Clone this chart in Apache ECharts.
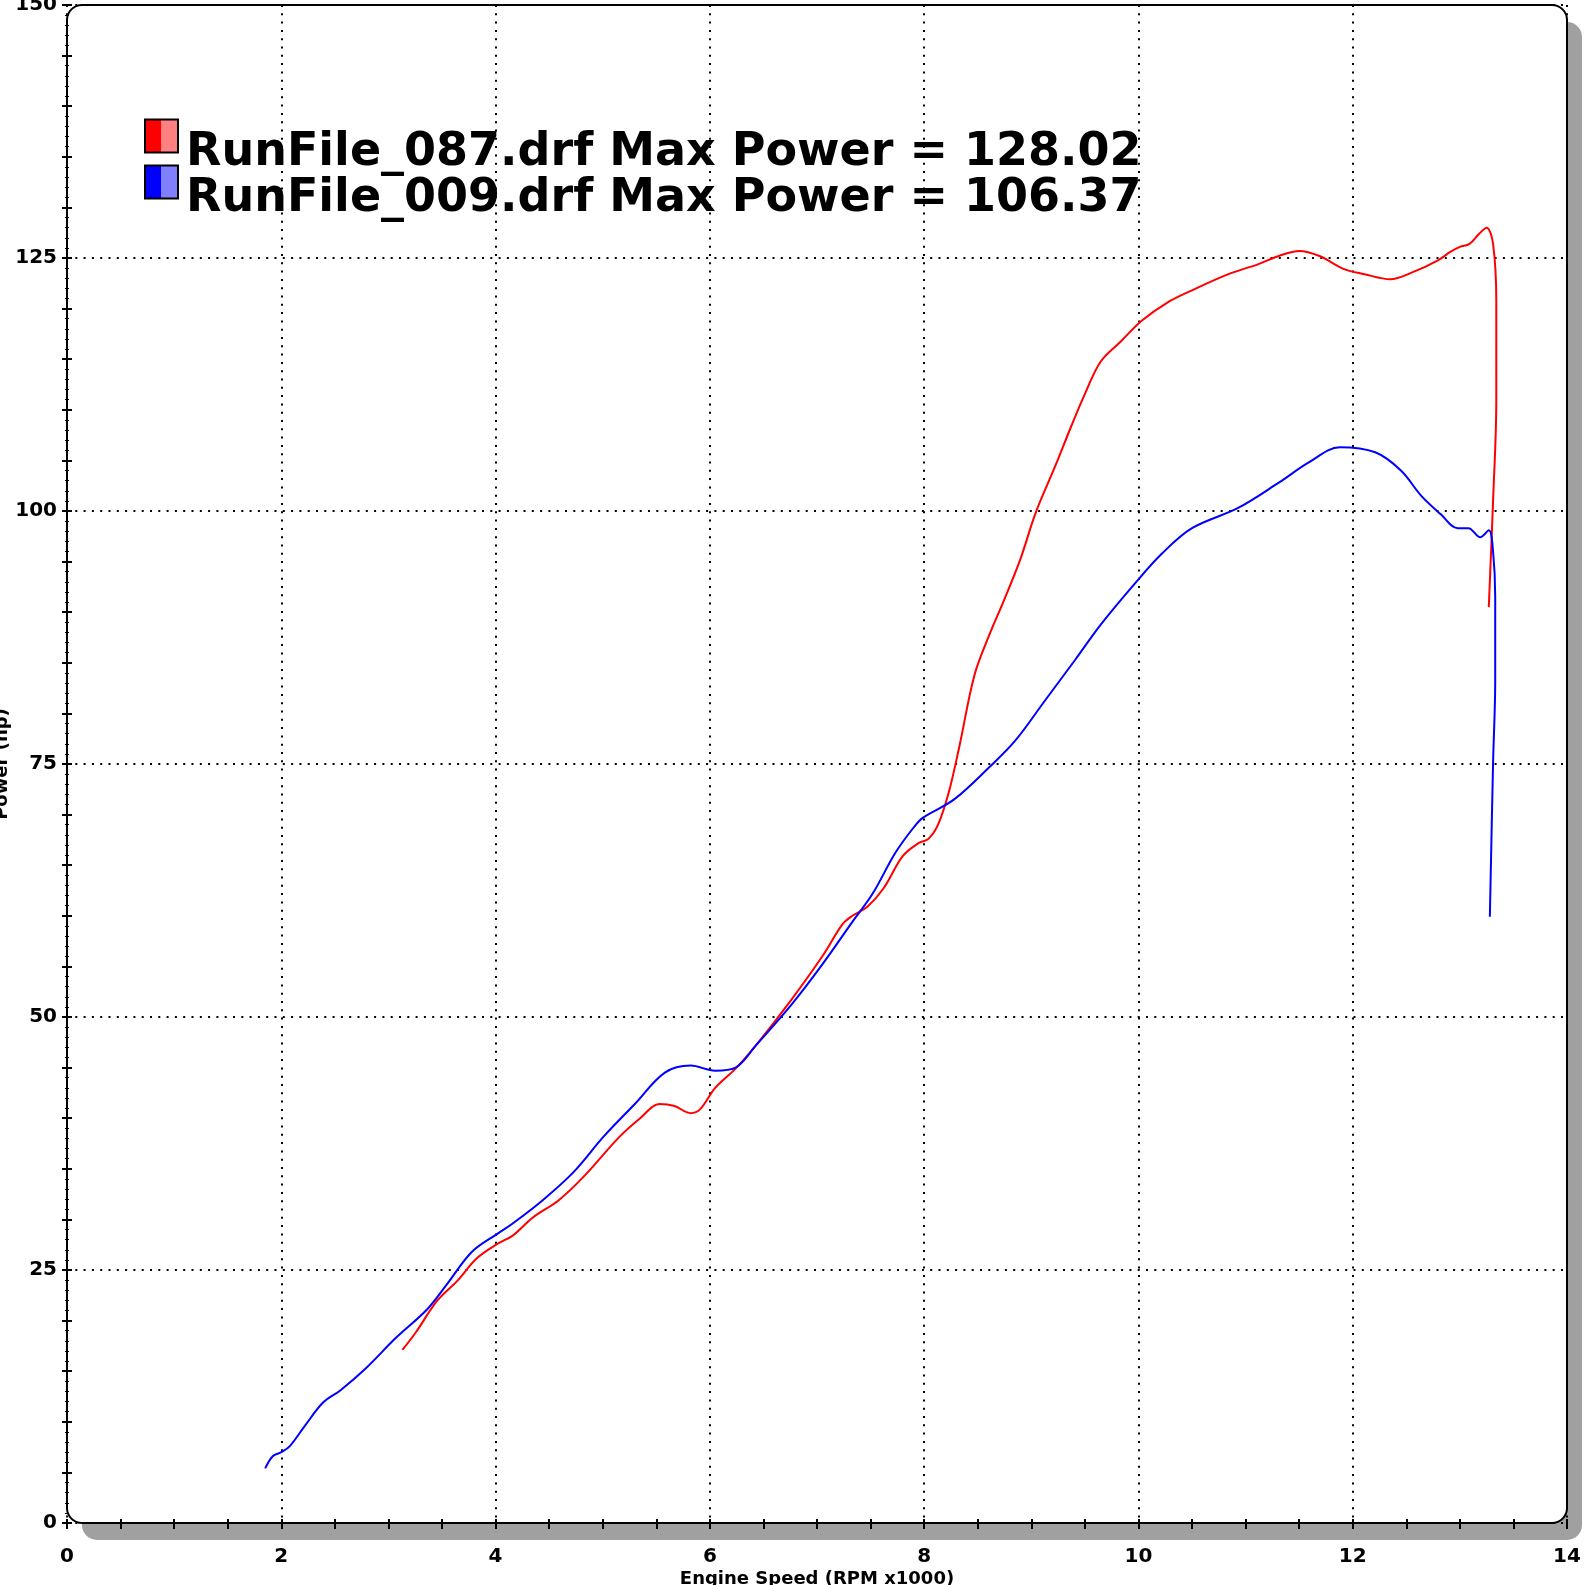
<!DOCTYPE html>
<html>
<head>
<meta charset="utf-8">
<title>Power vs Engine Speed</title>
<script src="https://cdn.jsdelivr.net/npm/echarts@6/dist/echarts.min.js"></script>
<style>
  html, body { margin: 0; padding: 0; background: #fff; }
  #chart { width: 1591px; height: 1585px; }
</style>
</head>
<body>
<div id="chart"></div>
<script>
// run 087 (red)
var rpm087 = [3.13, 3.26, 3.45, 3.64, 3.83, 4.02, 4.16, 4.35, 4.59, 4.82, 5.16, 5.35, 5.53, 5.67, 5.82, 5.91,
  6.05, 6.24, 6.43, 6.76, 7.05, 7.24, 7.33, 7.47, 7.62, 7.80, 7.95, 8.04, 8.13, 8.23, 8.33, 8.47, 8.61, 8.75,
  8.90, 9.04, 9.23, 9.37, 9.51, 9.65, 9.84, 10.03, 10.27, 10.50, 10.84, 11.12, 11.31, 11.50, 11.69, 11.92,
  12.11, 12.35, 12.56, 12.80, 12.91, 13.0, 13.09, 13.18, 13.25, 13.31, 13.34, 13.34, 13.31, 13.27];
var hp087 = [17.1, 18.9, 21.9, 23.9, 26.2, 27.6, 28.4, 30.2, 31.9, 34.2, 38.2, 40.0, 41.4, 41.2, 40.5, 40.9,
  43.0, 44.9, 47.2, 51.7, 56.0, 59.2, 60.0, 60.9, 62.7, 65.9, 67.2, 67.6, 69.0, 72.2, 76.8, 83.8, 87.8, 91.3,
  95.3, 99.8, 104.6, 108.3, 111.8, 114.8, 116.8, 118.8, 120.6, 121.8, 123.4, 124.4, 125.2, 125.7, 125.2, 123.9,
  123.4, 122.9, 123.6, 124.8, 125.6, 126.1, 126.4, 127.4, 128.0, 126.4, 120.8, 110.9, 101.0, 90.5];

// run 009 (blue)
var rpm009 = [1.85, 1.92, 2.0, 2.08, 2.22, 2.39, 2.55, 2.79, 3.07, 3.36, 3.54, 3.78, 4.02, 4.16, 4.44, 4.73,
  5.01, 5.30, 5.58, 5.82, 6.05, 6.24, 6.43, 6.76, 7.05, 7.33, 7.52, 7.73, 7.90, 7.99, 8.28, 8.61, 8.85, 9.13,
  9.41, 9.65, 9.98, 10.22, 10.50, 10.93, 11.31, 11.59, 11.88, 12.21, 12.45, 12.64, 12.82, 12.98, 13.08, 13.19,
  13.27, 13.31, 13.33, 13.33, 13.31, 13.28];
var hp009 = [5.4, 6.6, 7.0, 7.6, 9.6, 11.9, 13.1, 15.3, 18.3, 21.1, 23.5, 26.8, 28.6, 29.6, 31.9, 34.7,
  38.2, 41.4, 44.5, 45.2, 44.7, 45.0, 47.2, 51.2, 55.2, 59.4, 62.2, 66.2, 68.7, 69.7, 71.5, 74.7, 77.3, 81.3,
  85.3, 88.8, 93.0, 95.8, 98.3, 100.3, 102.8, 104.8, 106.3, 105.8, 104.0, 101.5, 99.7, 98.3, 98.3, 97.4,
  98.1, 96.0, 91.5, 83.3, 75.1, 59.9];

var runNames = ['RunFile_087.drf', 'RunFile_009.drf'];
var maxPower = [128.02, 106.37];
var runColors = ['#ff0000', '#0000ff'];
var runLight = ['#ff8080', '#8080ff'];

function pairs(xs, ys) {
  return xs.map(function (x, i) { return [x, ys[i]]; });
}

function splitSwatch(c1, c2) {
  return {
    type: 'linear', x: 0, y: 0, x2: 1, y2: 0,
    colorStops: [
      { offset: 0, color: c1 }, { offset: 0.5, color: c1 },
      { offset: 0.5, color: c2 }, { offset: 1, color: c2 }
    ]
  };
}

var chart = echarts.init(document.getElementById('chart'));

var gl = 67, gt = 5, gw = 1500, gh = 1518;
var font = 'DejaVu Sans';

var option = {
  backgroundColor: '#fff',
  animation: false,
  grid: { left: gl, top: gt, width: gw, height: gh, containLabel: false, outerBoundsMode: 'none' },
  // plot frame, shadow and rounded corners
  graphic: [
    { type: 'rect', z: -20, silent: true,
      shape: { x: gl + 15, y: gt + 17, width: gw, height: gh, r: 15 },
      style: { fill: '#a0a0a0' } },
    { type: 'rect', z: -10, silent: true,
      shape: { x: gl, y: gt, width: gw, height: gh, r: 15 },
      style: { fill: '#fff' } },
    { type: 'rect', z: 100, silent: true,
      shape: { x: gl, y: gt, width: gw, height: gh, r: 15 },
      style: { fill: null, stroke: '#000', lineWidth: 2 } }
  ],
  legend: {
    orient: 'vertical',
    left: 139,
    top: 91,
    itemWidth: 33,
    itemHeight: 33,
    itemGap: -34,
    selectedMode: false,
    textStyle: {
      fontFamily: font, fontWeight: 'bold', fontSize: 46, color: '#000',
      rich: {
        t: { fontFamily: font, fontWeight: 'bold', fontSize: 46, lineHeight: 46, color: '#000', padding: [34, 0, 0, 3] }
      }
    },
    formatter: function (name) {
      var i = runNames.indexOf(name);
      return '{t|' + name + ' Max Power = ' + maxPower[i].toFixed(2) + '}';
    },
    data: runNames.map(function (n, i) {
      return {
        name: n, icon: 'rect',
        itemStyle: { color: splitSwatch(runColors[i], runLight[i]), borderColor: '#000', borderWidth: 2 }
      };
    })
  },
  xAxis: [{
    type: 'value', min: 0, max: 14, interval: 2, offset: -4,
    name: 'Engine Speed (RPM x1000)', nameLocation: 'middle', nameGap: 51, nameMoveOverlap: false,
    nameTextStyle: { fontFamily: font, fontWeight: 'bold', fontSize: 18, color: '#000' },
    axisLine: { show: false },
    axisTick: { show: true, length: 10, lineStyle: { color: '#000', width: 2 } },
    minorTick: { show: true, splitNumber: 4, length: 10, lineStyle: { color: '#000', width: 2 } },
    axisLabel: { margin: 28, fontFamily: font, fontWeight: 'bold', fontSize: 20, color: '#000' },
    splitLine: { show: true, lineStyle: { color: '#000', width: 2, type: [2, 6.3] } }
  }],
  yAxis: [{
    type: 'value', min: 0, max: 150, interval: 25, offset: -5,
    name: 'Power (hp)', nameLocation: 'middle', nameGap: 61, nameRotate: 90, nameMoveOverlap: false,
    nameTextStyle: { fontFamily: font, fontWeight: 'bold', fontSize: 18, color: '#000' },
    axisLine: { show: false },
    axisTick: { show: true, length: 10, lineStyle: { color: '#000', width: 2 } },
    minorTick: { show: true, splitNumber: 5, length: 10, lineStyle: { color: '#000', width: 2 } },
    axisLabel: { margin: 15, fontFamily: font, fontWeight: 'bold', fontSize: 20, color: '#000' },
    splitLine: { show: true, lineStyle: { color: '#000', width: 2, type: [2, 6.3] } }
  }, {
    type: 'value', min: 0, max: 150, interval: 1, offset: -2, position: 'left',
    axisLine: { show: false },
    axisTick: { show: true, length: 4, lineStyle: { color: '#000', width: 1 } },
    axisLabel: { show: false },
    splitLine: { show: false }
  }],
  series: [{
    name: runNames[0], type: 'line', showSymbol: false, symbol: 'none', smooth: 0.35,
    lineStyle: { color: runColors[0], width: 2 }, itemStyle: { color: runColors[0] },
    data: pairs(rpm087, hp087)
  }, {
    name: runNames[1], type: 'line', showSymbol: false, symbol: 'none', smooth: 0.35,
    lineStyle: { color: runColors[1], width: 2 }, itemStyle: { color: runColors[1] },
    data: pairs(rpm009, hp009)
  }]
};

chart.setOption(option);
</script>
</body>
</html>
